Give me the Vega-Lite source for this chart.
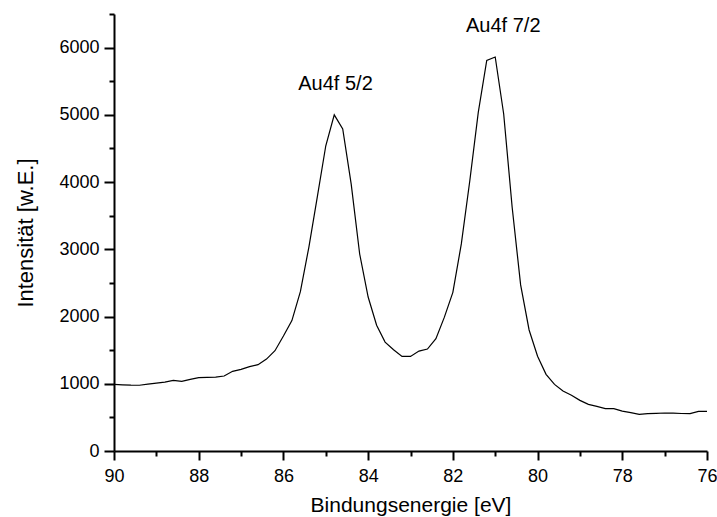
{
  "$schema": "https://vega.github.io/schema/vega-lite/v6.json",
  "width": 593,
  "height": 437,
  "autosize": {"type": "none"},
  "padding": {"left": 114, "top": 14, "right": 10, "bottom": 66},
  "background": "white",
  "config": {
    "view": {"stroke": null},
    "font": "Liberation Sans",
    "axis": {
      "labelFont": "Liberation Sans",
      "titleFont": "Liberation Sans",
      "labelColor": "black",
      "titleColor": "black",
      "domainColor": "black",
      "tickColor": "black",
      "domainWidth": 2,
      "tickWidth": 2,
      "grid": false,
      "labelFontSize": 18,
      "titleFontSize": 21,
      "titleFontWeight": "normal"
    }
  },
  "datasets": {
    "spectrum": [
      {"E": 90.0, "I": 990}, {"E": 89.8, "I": 985}, {"E": 89.6, "I": 980}, {"E": 89.4, "I": 978},
      {"E": 89.2, "I": 995}, {"E": 89.0, "I": 1010}, {"E": 88.8, "I": 1025}, {"E": 88.6, "I": 1050},
      {"E": 88.4, "I": 1035}, {"E": 88.2, "I": 1065}, {"E": 88.0, "I": 1090}, {"E": 87.8, "I": 1095},
      {"E": 87.6, "I": 1100}, {"E": 87.4, "I": 1115}, {"E": 87.2, "I": 1185}, {"E": 87.0, "I": 1214},
      {"E": 86.8, "I": 1254}, {"E": 86.6, "I": 1284}, {"E": 86.4, "I": 1367}, {"E": 86.2, "I": 1492},
      {"E": 86.0, "I": 1710}, {"E": 85.8, "I": 1940}, {"E": 85.6, "I": 2370}, {"E": 85.4, "I": 3030},
      {"E": 85.2, "I": 3780}, {"E": 85.0, "I": 4540}, {"E": 84.8, "I": 5000}, {"E": 84.6, "I": 4790},
      {"E": 84.4, "I": 3970}, {"E": 84.2, "I": 2930}, {"E": 84.0, "I": 2290}, {"E": 83.8, "I": 1870},
      {"E": 83.6, "I": 1620}, {"E": 83.4, "I": 1506}, {"E": 83.2, "I": 1407}, {"E": 83.0, "I": 1407},
      {"E": 82.8, "I": 1486}, {"E": 82.6, "I": 1516}, {"E": 82.4, "I": 1670}, {"E": 82.2, "I": 1991},
      {"E": 82.0, "I": 2360}, {"E": 81.8, "I": 3080}, {"E": 81.6, "I": 4020}, {"E": 81.4, "I": 5037},
      {"E": 81.2, "I": 5810}, {"E": 81.0, "I": 5860}, {"E": 80.8, "I": 5013}, {"E": 80.6, "I": 3626},
      {"E": 80.4, "I": 2470}, {"E": 80.2, "I": 1800}, {"E": 80.0, "I": 1410}, {"E": 79.8, "I": 1140},
      {"E": 79.6, "I": 991}, {"E": 79.4, "I": 892}, {"E": 79.2, "I": 828}, {"E": 79.0, "I": 753},
      {"E": 78.8, "I": 694}, {"E": 78.6, "I": 664}, {"E": 78.4, "I": 630}, {"E": 78.2, "I": 630},
      {"E": 78.0, "I": 594}, {"E": 77.8, "I": 570}, {"E": 77.6, "I": 545}, {"E": 77.4, "I": 555},
      {"E": 77.2, "I": 560}, {"E": 77.0, "I": 565}, {"E": 76.8, "I": 562}, {"E": 76.6, "I": 558},
      {"E": 76.4, "I": 555}, {"E": 76.2, "I": 590}, {"E": 76.0, "I": 590}
    ],
    "labels": [
      {"E": 84.77, "I": 5464, "label": "Au4f 5/2"},
      {"E": 80.81, "I": 6325, "label": "Au4f 7/2"}
    ]
  },
  "layer": [
    {
      "data": {"name": "spectrum"},
      "mark": {"type": "line", "color": "black", "strokeWidth": 1.2},
      "encoding": {
        "x": {
          "field": "E", "type": "quantitative",
          "scale": {"domain": [76, 90], "reverse": true, "nice": false, "zero": false},
          "axis": {
            "orient": "bottom",
            "title": "Bindungsenergie [eV]",
            "values": [90, 88, 86, 84, 82, 80, 78, 76],
            "format": "d",
            "tickSize": 9, "labelPadding": 7, "titlePadding": 9,
            "labelFlush": false, "labelOverlap": false
          }
        },
        "y": {
          "field": "I", "type": "quantitative",
          "scale": {"domain": [0, 6500], "nice": false},
          "axis": {
            "orient": "left",
            "title": "Intensität [w.E.]",
            "titleFontSize": 22,
            "values": [0, 1000, 2000, 3000, 4000, 5000, 6000],
            "format": "d",
            "tickSize": 10, "labelPadding": 5, "titlePadding": 21,
            "labelFlush": false, "labelOverlap": false
          }
        }
      }
    },
    {
      "data": {"name": "labels"},
      "mark": {"type": "text", "font": "Liberation Sans", "fontSize": 20, "color": "black", "align": "center", "baseline": "middle"},
      "encoding": {
        "text": {"field": "label"},
        "x": {
          "field": "E", "type": "quantitative",
          "axis": {
            "orient": "bottom", "title": null, "labels": false, "domain": false,
            "values": [89, 87, 85, 83, 81, 79, 77], "tickSize": 5
          }
        },
        "y": {
          "field": "I", "type": "quantitative",
          "axis": {
            "orient": "left", "title": null, "labels": false, "domain": false,
            "values": [500, 1500, 2500, 3500, 4500, 5500, 6500], "tickSize": 5
          }
        }
      }
    }
  ],
  "resolve": {"axis": {"x": "independent", "y": "independent"}}
}
